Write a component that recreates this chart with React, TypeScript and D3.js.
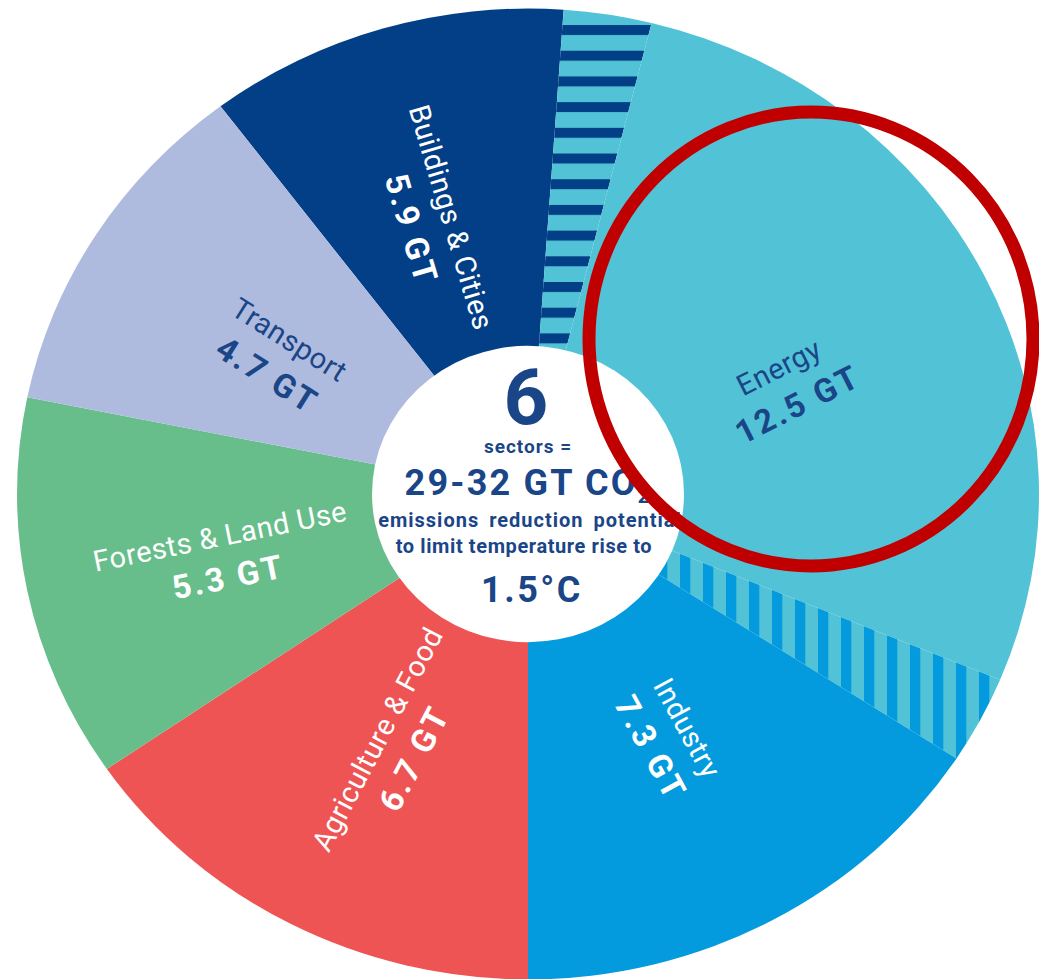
import * as d3 from "d3";

// sectors and their reduction potential (GT CO2)
const sectorNames = ["Buildings & Cities", "Energy", "Industry", "Agriculture & Food", "Forests & Land Use", "Transport"];
const sectorGT = [5.9, 12.5, 7.3, 6.7, 5.3, 4.7];

// ring segments clockwise from the Transport / Buildings border, span in degrees
const segmentNames = ["Buildings & Cities", "Buildings & Cities / Energy", "Energy", "Energy / Industry", "Industry", "Agriculture & Food", "Forests & Land Use", "Transport"];
const segmentSpan = [41, 10, 98.5, 10.5, 57, 55.5, 46, 41.5];
const ringStart = -37;

const centerTotal = "29-32 GT CO";
const centerTemp = "1.5°C";

const W = 1039;
const H = 979;
const cx = 528;
const cy = 494;
const sy = 0.95;
const R = 511;
const R0 = 156;
const DEG = Math.PI / 180;

const colors: Record<string, string> = {
  "Buildings & Cities": "#023f86",
  "Energy": "#52c3d7",
  "Industry": "#039bdd",
  "Agriculture & Food": "#ee5454",
  "Forests & Land Use": "#68be8b",
  "Transport": "#aebbde",
};
const fills: Record<string, string> = {
  ...colors,
  "Buildings & Cities / Energy": "url(#hatchBE)",
  "Energy / Industry": "url(#hatchEI)",
};
const darkText = "#1a4587";
const textColor: Record<string, string> = {
  "Buildings & Cities": "#fff",
  "Energy": darkText,
  "Industry": "#fff",
  "Agriculture & Food": "#fff",
  "Forests & Land Use": "#fff",
  "Transport": darkText,
};
// label nudges: angle offset from the segment middle (deg) and distance from centre
const labelNudge: Record<string, [number, number]> = {
  "Buildings & Cities": [-2.1, 301],
  "Energy": [2.95, 284],
  "Industry": [-0.4, 293],
  "Agriculture & Food": [-1.35, 299],
  "Forests & Land Use": [-0.6, 311],
  "Transport": [-2.15, 288],
};

export default function App() {
  const pie = d3.pie<number>()
    .value((d) => d)
    .sort(null)
    .startAngle(ringStart * DEG)
    .endAngle(ringStart * DEG + 2 * Math.PI);
  const arcs = pie(segmentSpan);
  const arc = d3.arc<d3.PieArcDatum<number>>().innerRadius(0).outerRadius(R);

  const labels = sectorNames.map((name, i) => {
    const a = arcs[segmentNames.indexOf(name)];
    const mid = (a.startAngle + a.endAngle) / 2;
    let midDeg = mid / DEG;
    midDeg = ((midDeg % 360) + 360) % 360;
    const rot = midDeg < 180 ? midDeg - 90 : midDeg - 270;
    const [off, r] = labelNudge[name];
    const ang = mid + off * DEG;
    return {
      name,
      value: `${sectorGT[i]} GT`,
      x: cx + r * Math.sin(ang),
      y: cy - r * Math.cos(ang) * sy,
      rot,
      color: textColor[name],
    };
  });

  return (
    <svg width={W} height={H} style={{ position: "absolute", left: 0, top: 0 }} fontFamily="Roboto, sans-serif">
      <defs>
        <pattern id="hatchBE" patternUnits="userSpaceOnUse" x={0} y={20.3} width={40} height={27.05}>
          <rect width={40} height={27.05} fill={colors["Energy"]} />
          <rect width={40} height={10.5} fill={colors["Buildings & Cities"]} />
        </pattern>
        <pattern id="hatchEI" patternUnits="userSpaceOnUse" x={14} y={0} width={23} height={40}>
          <rect width={23} height={40} fill={colors["Energy"]} />
          <rect width={10.3} height={40} fill={colors["Industry"]} />
        </pattern>
      </defs>

      <g transform={`translate(${cx},${cy}) scale(1,${sy})`}>
        {arcs.map((a, i) => (
          <path key={i} d={arc(a) ?? ""} fill={fills[segmentNames[i]]} />
        ))}
        <circle r={R0} fill="#fff" />
      </g>

      {labels.map((l) => (
        <g key={l.name} transform={`translate(${l.x},${l.y}) rotate(${l.rot})`} fill={l.color} textAnchor="middle">
          <text y={-10} fontSize={29} letterSpacing={0.5}>{l.name}</text>
          <text y={33} fontSize={33} fontWeight={700} letterSpacing={2.5}>{l.value}</text>
        </g>
      ))}

      <g fill={darkText} textAnchor="middle" fontWeight={700}>
        <text x={526} y={424} fontSize={78}>{sectorNames.length}</text>
        <text x={528} y={453} fontSize={19} letterSpacing={1}>sectors =</text>
        <text x={528} y={495} fontSize={36} letterSpacing={2.2}>
          {centerTotal}
          <tspan fontSize={20} dy={8}>2</tspan>
        </text>
        <text x={530} y={527} fontSize={20} letterSpacing={1} wordSpacing={4}>emissions reduction potential</text>
        <text x={524} y={553} fontSize={20} letterSpacing={0.6}>to limit temperature rise to</text>
        <text x={532} y={602} fontSize={36} letterSpacing={2.5}>{centerTemp}</text>
      </g>

      <ellipse cx={811} cy={339} rx={222} ry={227} fill="none" stroke="#c00000" strokeWidth={13} />
    </svg>
  );
}
